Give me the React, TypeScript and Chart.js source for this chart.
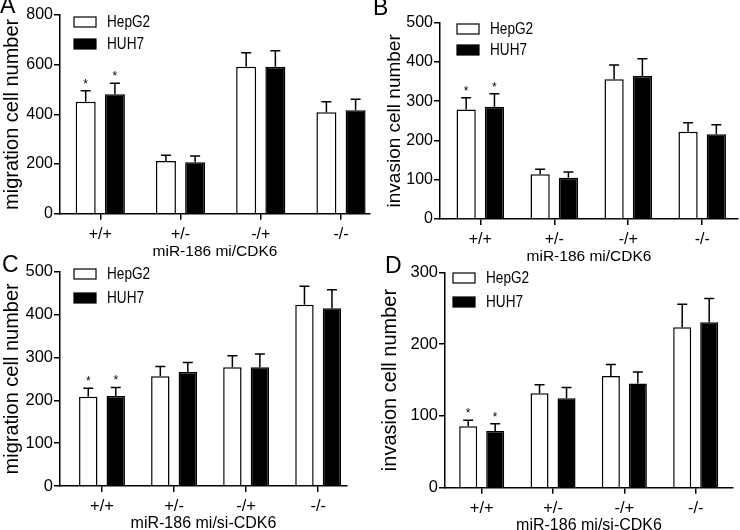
import React, { useEffect, useRef } from 'react';
import { Chart, registerables } from 'chart.js';

Chart.register(...registerables);

// ---------------- data ----------------
const categories = ['+/+', '+/-', '-/+', '-/-'];
const seriesNames = ['HepG2', 'HUH7'];
const starred = [true, false, false, false];

// Panel A: migration, miR-186 mi/CDK6
const aHepG2 = [451, 212, 592, 408];
const aHepG2Err = [44, 23, 56, 43];
const aHUH7 = [481, 207, 592, 417];
const aHUH7Err = [44, 25, 64, 44];
const aTicks = [0, 200, 400, 600, 800];

// Panel B: invasion, miR-186 mi/CDK6
const bHepG2 = [279, 114, 356, 222];
const bHepG2Err = [30, 13, 36, 23];
const bHUH7 = [286, 105, 364, 216];
const bHUH7Err = [33, 15, 44, 24];
const bTicks = [0, 100, 200, 300, 400, 500];

// Panel C: migration, miR-186 mi/si-CDK6
const cHepG2 = [208, 256, 277, 423];
const cHepG2Err = [20, 23, 27, 43];
const cHUH7 = [210, 266, 277, 415];
const cHUH7Err = [20, 22, 31, 43];
const cTicks = [0, 100, 200, 300, 400, 500];

// Panel D: invasion, miR-186 mi/si-CDK6
const dHepG2 = [85.5, 131.5, 155.7, 223.6];
const dHepG2Err = [8.5, 12, 16, 32];
const dHUH7 = [79, 124.5, 145, 230.6];
const dHUH7Err = [10, 15, 16, 33];
const dTicks = [0, 100, 200, 300];

const FONT = 'Arial, "Liberation Sans", sans-serif';

type Panel = {
  letter: string; letterX: number; letterY: number;
  yTitle: string; xTitle: string;
  hep: number[]; hepErr: number[]; huh: number[]; huhErr: number[]; ticks: number[];
  axisX: number; top: number; bottom: number; right: number; c0: number; c3: number;
  catPct: number; barPct: number; titleCx: number; fs: number; titleFs: number; xTitleFs: number;
  legendX: number; legendY: number; pitch: number;
};

const panels: Panel[] = [
  {
    letter: 'A', letterX: 0, letterY: 13, yTitle: 'migration cell number', xTitle: 'miR-186 mi/CDK6',
    hep: aHepG2, hepErr: aHepG2Err, huh: aHUH7, huhErr: aHUH7Err, ticks: aTicks,
    axisX: 60, top: 15, bottom: 213.7, right: 370, c0: 100.3, c3: 341, catPct: 0.728, barPct: 0.685,
    titleCx: 12.5, fs: 16, titleFs: 20, xTitleFs: 15.5, legendX: 74, legendY: 17, pitch: 22,
  },
  {
    letter: 'B', letterX: 373, letterY: 15, yTitle: 'invasion cell number', xTitle: 'miR-186 mi/CDK6',
    hep: bHepG2, hepErr: bHepG2Err, huh: bHUH7, huhErr: bHUH7Err, ticks: bTicks,
    axisX: 440, top: 22.7, bottom: 219, right: 738, c0: 480.3, c3: 702.2, catPct: 0.765, barPct: 0.68,
    titleCx: 395, fs: 16, titleFs: 19, xTitleFs: 15.5, legendX: 457, legendY: 24, pitch: 21,
  },
  {
    letter: 'C', letterX: 2, letterY: 272, yTitle: 'migration cell number', xTitle: 'miR-186 mi/si-CDK6',
    hep: cHepG2, hepErr: cHepG2Err, huh: cHUH7, huhErr: cHUH7Err, ticks: cTicks,
    axisX: 60, top: 271.7, bottom: 486, right: 347, c0: 102, c3: 318.2, catPct: 0.763, barPct: 0.67,
    titleCx: 12.5, fs: 16.5, titleFs: 20, xTitleFs: 16, legendX: 74, legendY: 269, pitch: 24,
  },
  {
    letter: 'D', letterX: 385, letterY: 273, yTitle: 'invasion cell number', xTitle: 'miR-186 mi/si-CDK6',
    hep: dHepG2, hepErr: dHepG2Err, huh: dHUH7, huhErr: dHUH7Err, ticks: dTicks,
    axisX: 445, top: 272.3, bottom: 487.7, right: 733, c0: 481.7, c3: 695.7, catPct: 0.757, barPct: 0.667,
    titleCx: 390.5, fs: 16.5, titleFs: 20, xTitleFs: 16, legendX: 453, legendY: 273, pitch: 24,
  },
];

const W = 740;
const H = 530;

function makeChart(canvas: HTMLCanvasElement, p: Panel) {
  const s = (p.c3 - p.c0) / (categories.length - 1);
  const xMin = -(p.c0 - p.axisX) / s;
  const xMax = categories.length - 1 + (p.right - p.c3) / s;
  const xH = 38 + 0.6 * p.xTitleFs;
  const lBox = p.titleCx - 0.6 * p.titleFs;
  const errs = [p.hepErr, p.huhErr];

  const overlay = {
    id: 'overlay',
    afterDatasetsDraw(chart: any) {
      const ctx = chart.ctx;
      const yScale = chart.scales.y;
      ctx.save();
      // error bars + asterisks
      chart.data.datasets.forEach((ds: any, di: number) => {
        const meta = chart.getDatasetMeta(di);
        meta.data.forEach((bar: any, i: number) => {
          const v = ds.data[i].y;
          const yTop = yScale.getPixelForValue(v + errs[di][i]);
          ctx.strokeStyle = '#000';
          ctx.lineWidth = 1.5;
          ctx.beginPath();
          ctx.moveTo(bar.x, bar.y);
          ctx.lineTo(bar.x, yTop);
          ctx.moveTo(bar.x - 5, yTop);
          ctx.lineTo(bar.x + 5, yTop);
          ctx.stroke();
          if (starred[i]) {
            ctx.fillStyle = '#000';
            ctx.font = `12px ${FONT}`;
            ctx.textAlign = 'center';
            ctx.textBaseline = 'alphabetic';
            ctx.fillText('*', bar.x, yTop - 3);
          }
        });
      });
      // legend
      chart.data.datasets.forEach((ds: any, di: number) => {
        const bx = p.legendX;
        const by = p.legendY + di * p.pitch;
        ctx.fillStyle = ds.backgroundColor;
        ctx.fillRect(bx, by, 22, 10);
        ctx.strokeStyle = '#000';
        ctx.lineWidth = 1.2;
        ctx.strokeRect(bx, by, 22, 10);
        ctx.save();
        ctx.translate(bx + 33, by + 5.5);
        ctx.scale(0.85, 1);
        ctx.fillStyle = '#000';
        ctx.font = `16px ${FONT}`;
        ctx.textAlign = 'left';
        ctx.textBaseline = 'middle';
        ctx.fillText(ds.label, 0, 0);
        ctx.restore();
      });
      // panel letter
      ctx.fillStyle = '#000';
      ctx.font = `23px ${FONT}`;
      ctx.textAlign = 'left';
      ctx.textBaseline = 'alphabetic';
      ctx.fillText(p.letter, p.letterX, p.letterY);
      ctx.restore();
    },
  };

  return new Chart(canvas, {
    type: 'bar',
    data: {
      datasets: [
        {
          label: seriesNames[0],
          data: categories.map((_, i) => ({ x: i, y: p.hep[i] })) as any,
          backgroundColor: '#ffffff',
          borderColor: '#000000',
          borderWidth: 1.5,
          categoryPercentage: p.catPct,
          barPercentage: p.barPct,
        },
        {
          label: seriesNames[1],
          data: categories.map((_, i) => ({ x: i, y: p.huh[i] })) as any,
          backgroundColor: '#000000',
          borderColor: '#000000',
          borderWidth: 1.5,
          categoryPercentage: p.catPct,
          barPercentage: p.barPct,
        },
      ],
    },
    options: {
      responsive: false,
      animation: false,
      devicePixelRatio: 1,
      layout: {
        padding: {
          left: lBox,
          top: p.top,
          right: W - p.right,
          bottom: H - (p.bottom + xH),
        },
      },
      plugins: {
        legend: { display: false },
        tooltip: { enabled: false },
      },
      scales: {
        x: {
          type: 'linear',
          offset: false,
          min: xMin,
          max: xMax,
          afterBuildTicks: (sc: any) => {
            sc.ticks = categories.map((_, i) => ({ value: i }));
          },
          afterFit: (sc: any) => {
            sc.height = xH;
          },
          ticks: {
            callback: (v: any) => categories[v as number] ?? '',
            font: { family: FONT, size: p.fs },
            color: '#000',
            padding: 5,
            maxRotation: 0,
            autoSkip: false,
          },
          grid: { display: true, offset: false, drawOnChartArea: false, drawTicks: true, tickLength: 6, color: '#000', lineWidth: 1.5 },
          border: { display: true, color: '#000', width: 1.5 },
          title: { display: true, text: p.xTitle, color: '#000', font: { family: FONT, size: p.xTitleFs }, padding: 0 },
        },
        y: {
          min: 0,
          max: p.ticks[p.ticks.length - 1],
          afterBuildTicks: (sc: any) => {
            sc.ticks = p.ticks.map((v) => ({ value: v }));
          },
          afterFit: (sc: any) => {
            sc.width = p.axisX - lBox;
          },
          ticks: { font: { family: FONT, size: p.fs }, color: '#000', padding: 1 },
          grid: { display: true, drawOnChartArea: false, drawTicks: true, tickLength: 6, color: '#000', lineWidth: 1.5 },
          border: { display: true, color: '#000', width: 1.5 },
          title: { display: true, text: p.yTitle, color: '#000', font: { family: FONT, size: p.titleFs }, padding: 0 },
        },
      },
    } as any,
    plugins: [overlay],
  });
}

function PanelCanvas({ p }: { p: Panel }) {
  const ref = useRef<HTMLCanvasElement | null>(null);
  useEffect(() => {
    if (!ref.current) return;
    const chart = makeChart(ref.current, p);
    return () => chart.destroy();
  }, [p]);
  return (
    <canvas
      ref={ref}
      width={W}
      height={H}
      style={{ position: 'absolute', left: 0, top: 0, width: W, height: H }}
    />
  );
}

export default function App() {
  return (
    <div style={{ position: 'absolute', left: 0, top: 0, width: W, height: H, background: '#fff' }}>
      {panels.map((p) => (
        <PanelCanvas key={p.letter} p={p} />
      ))}
    </div>
  );
}
